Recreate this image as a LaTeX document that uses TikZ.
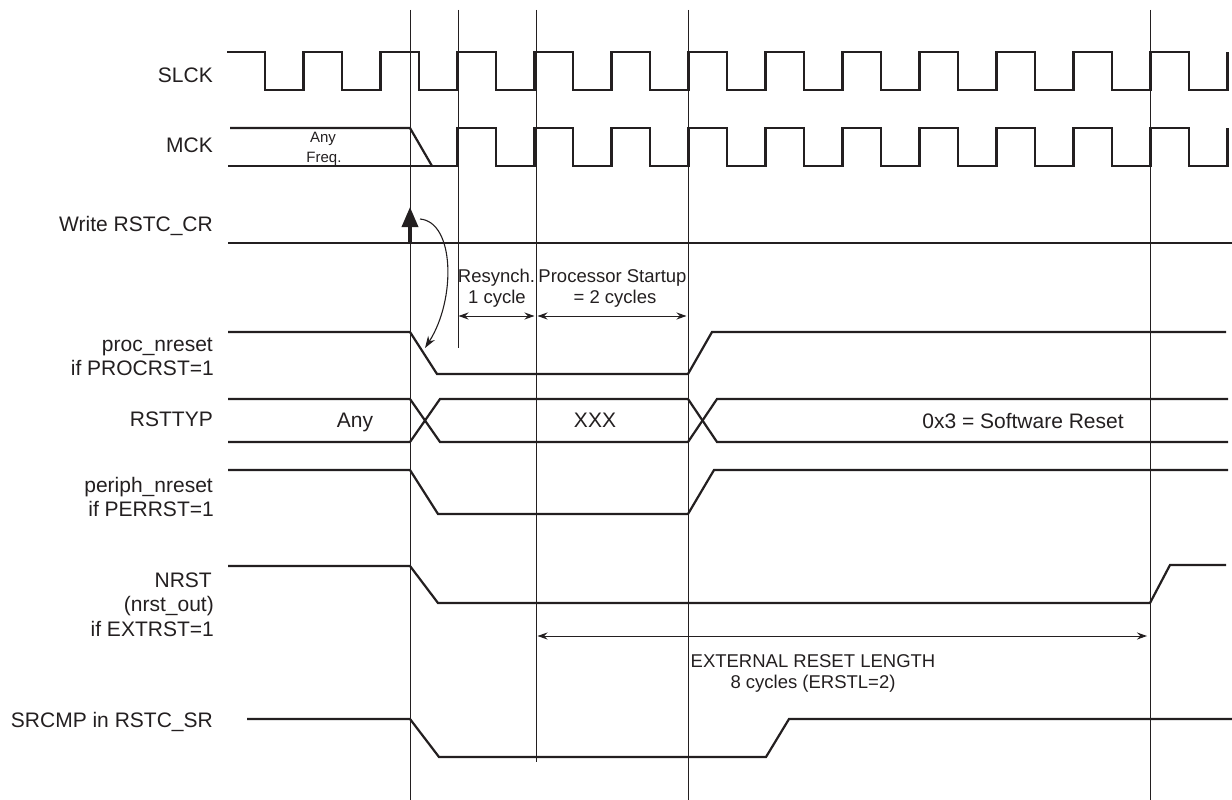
\documentclass[tikz,border=0pt]{standalone}
\usepackage{fontspec}
\setmainfont{Liberation Sans}
\usetikzlibrary{arrows.meta}
\definecolor{ink}{HTML}{231F20}
\begin{document}
\begin{tikzpicture}[x=1pt,y=-1pt,
  sig/.style={draw=ink,line width=2.2pt},
  gridline/.style={draw=ink,line width=0.8pt},
  lbl/.style={font=\fontsize{21}{24}\selectfont,text=ink,inner sep=0pt,anchor=base east},
  val/.style={font=\fontsize{21}{24}\selectfont,text=ink,inner sep=0pt,anchor=base},
  ann/.style={font=\fontsize{18.5}{21}\selectfont,text=ink,inner sep=0pt,anchor=base},
  small/.style={font=\fontsize{15}{17}\selectfont,text=ink,inner sep=0pt,anchor=base},
  dimarrow/.style={draw=ink,line width=1pt,{Stealth[length=10pt,width=7pt]}-{Stealth[length=10pt,width=7pt]}}]
\useasboundingbox (0,0) rectangle (1232,800);

% vertical reference lines
\draw[gridline] (410,10) -- (410,800);
\draw[gridline] (458,10) -- (458,348);
\draw[gridline] (536,10) -- (536,762);
\draw[gridline] (688,10) -- (688,800);
\draw[gridline] (1150,10) -- (1150,800);

% labels
\node[lbl] (lSLCK) at (213,82) {SLCK};
\node[lbl] (lMCK) at (213,152) {MCK};
\node[lbl] (lWR) at (213,231) {Write RSTC\_CR};
\node[lbl] (lProcA) at (213,351) {proc\_nreset};
\node[lbl] (lProcB) at (214,375) {if PROCRST=1};
\node[lbl] (lTyp) at (213,426) {RSTTYP};
\node[lbl] (lPerA) at (213,492) {periph\_nreset};
\node[lbl] (lPerB) at (214,516) {if PERRST=1};
\node[lbl] (lNrA) at (212,587) {NRST};
\node[lbl] (lNrB) at (214,611) {(nrst\_out)};
\node[lbl] (lNrC) at (214,636) {if EXTRST=1};
\node[lbl] (lSr) at (213,727) {SRCMP in RSTC\_SR};

% SLCK
\draw[sig] (227,52) \foreach \k in {0,...,12} { -- ({265+77*\k},52) -- ({265+77*\k},90) -- ({303.5+77*\k},90) -- ({303.5+77*\k},52) };

% MCK
\draw[sig] (230,128) -- (410,128) -- (432,166);
\draw[sig] (228,166) -- (457.5,166) -- (457.5,128) \foreach \k in {0,...,9} { -- ({496+77*\k},128) -- ({496+77*\k},166) -- ({534.5+77*\k},166) -- ({534.5+77*\k},128) };
\node[small] (tAny) at (323,142) {Any};
\node[small] (tFreq) at (324,162) {Freq.};

% Write RSTC_CR
\draw[sig] (228,243) -- (1232,243);
\coordinate (wBase) at (410,243);
\coordinate (wTip) at (410,207);
\draw[draw=ink,line width=3.5pt,-{Triangle[length=20pt,width=16pt]}] (wBase) -- (wTip);
\coordinate (cStart) at (420,219);
\coordinate (cEnd) at (425,348);
\draw[draw=ink,line width=1.1pt,-{Stealth[length=12pt,width=8pt]}] (cStart) .. controls (455,222) and (456,300) .. (cEnd);

% Resynch / startup
\node[ann] (tRes) at (496.5,282) {Resynch.};
\node[ann] (tRes2) at (497,303) {1 cycle};
\node[ann] (tPs) at (612.5,282) {Processor Startup};
\node[ann] (tPs2) at (615,303) {= 2 cycles};
\coordinate (rA) at (458.5,316);
\coordinate (rB) at (534.5,316);
\coordinate (rC) at (537.5,316);
\coordinate (rD) at (686.5,316);
\draw[dimarrow] (rA) -- (rB);
\draw[dimarrow] (rC) -- (rD);

% proc_nreset
\draw[sig] (228,332) -- (410,332) -- (437,374) -- (688,374) -- (712,332) -- (1226,332);

% RSTTYP
\draw[sig] (228,399) -- (410,399) -- (440,442) -- (688,442) -- (717,399) -- (1228,399);
\draw[sig] (228,442) -- (410,442) -- (440,399) -- (688,399) -- (717,442) -- (1228,442);
\node[val] (vAny) at (355,427) {Any};
\node[val] (vX) at (595,427) {XXX};
\node[val] (vSw) at (1023,428) {0x3 = Software Reset};

% periph_nreset
\draw[sig] (228,470) -- (410,470) -- (438,514) -- (688,514) -- (714,470) -- (1228,470);

% NRST
\draw[sig] (228,566) -- (410,566) -- (438,603) -- (1150,603) -- (1170,565) -- (1226,565);

% External reset length
\coordinate (eA) at (537.5,636);
\coordinate (eB) at (1147,636);
\draw[dimarrow] (eA) -- (eB);
\node[ann] (tExt) at (813,667) {EXTERNAL RESET LENGTH};
\node[ann] (tExt2) at (813,688) {8 cycles (ERSTL=2)};

% SRCMP
\draw[sig] (247,719) -- (410,719) -- (439,757) -- (766,757) -- (789,719) -- (1232,719);
\end{tikzpicture}
\end{document}
